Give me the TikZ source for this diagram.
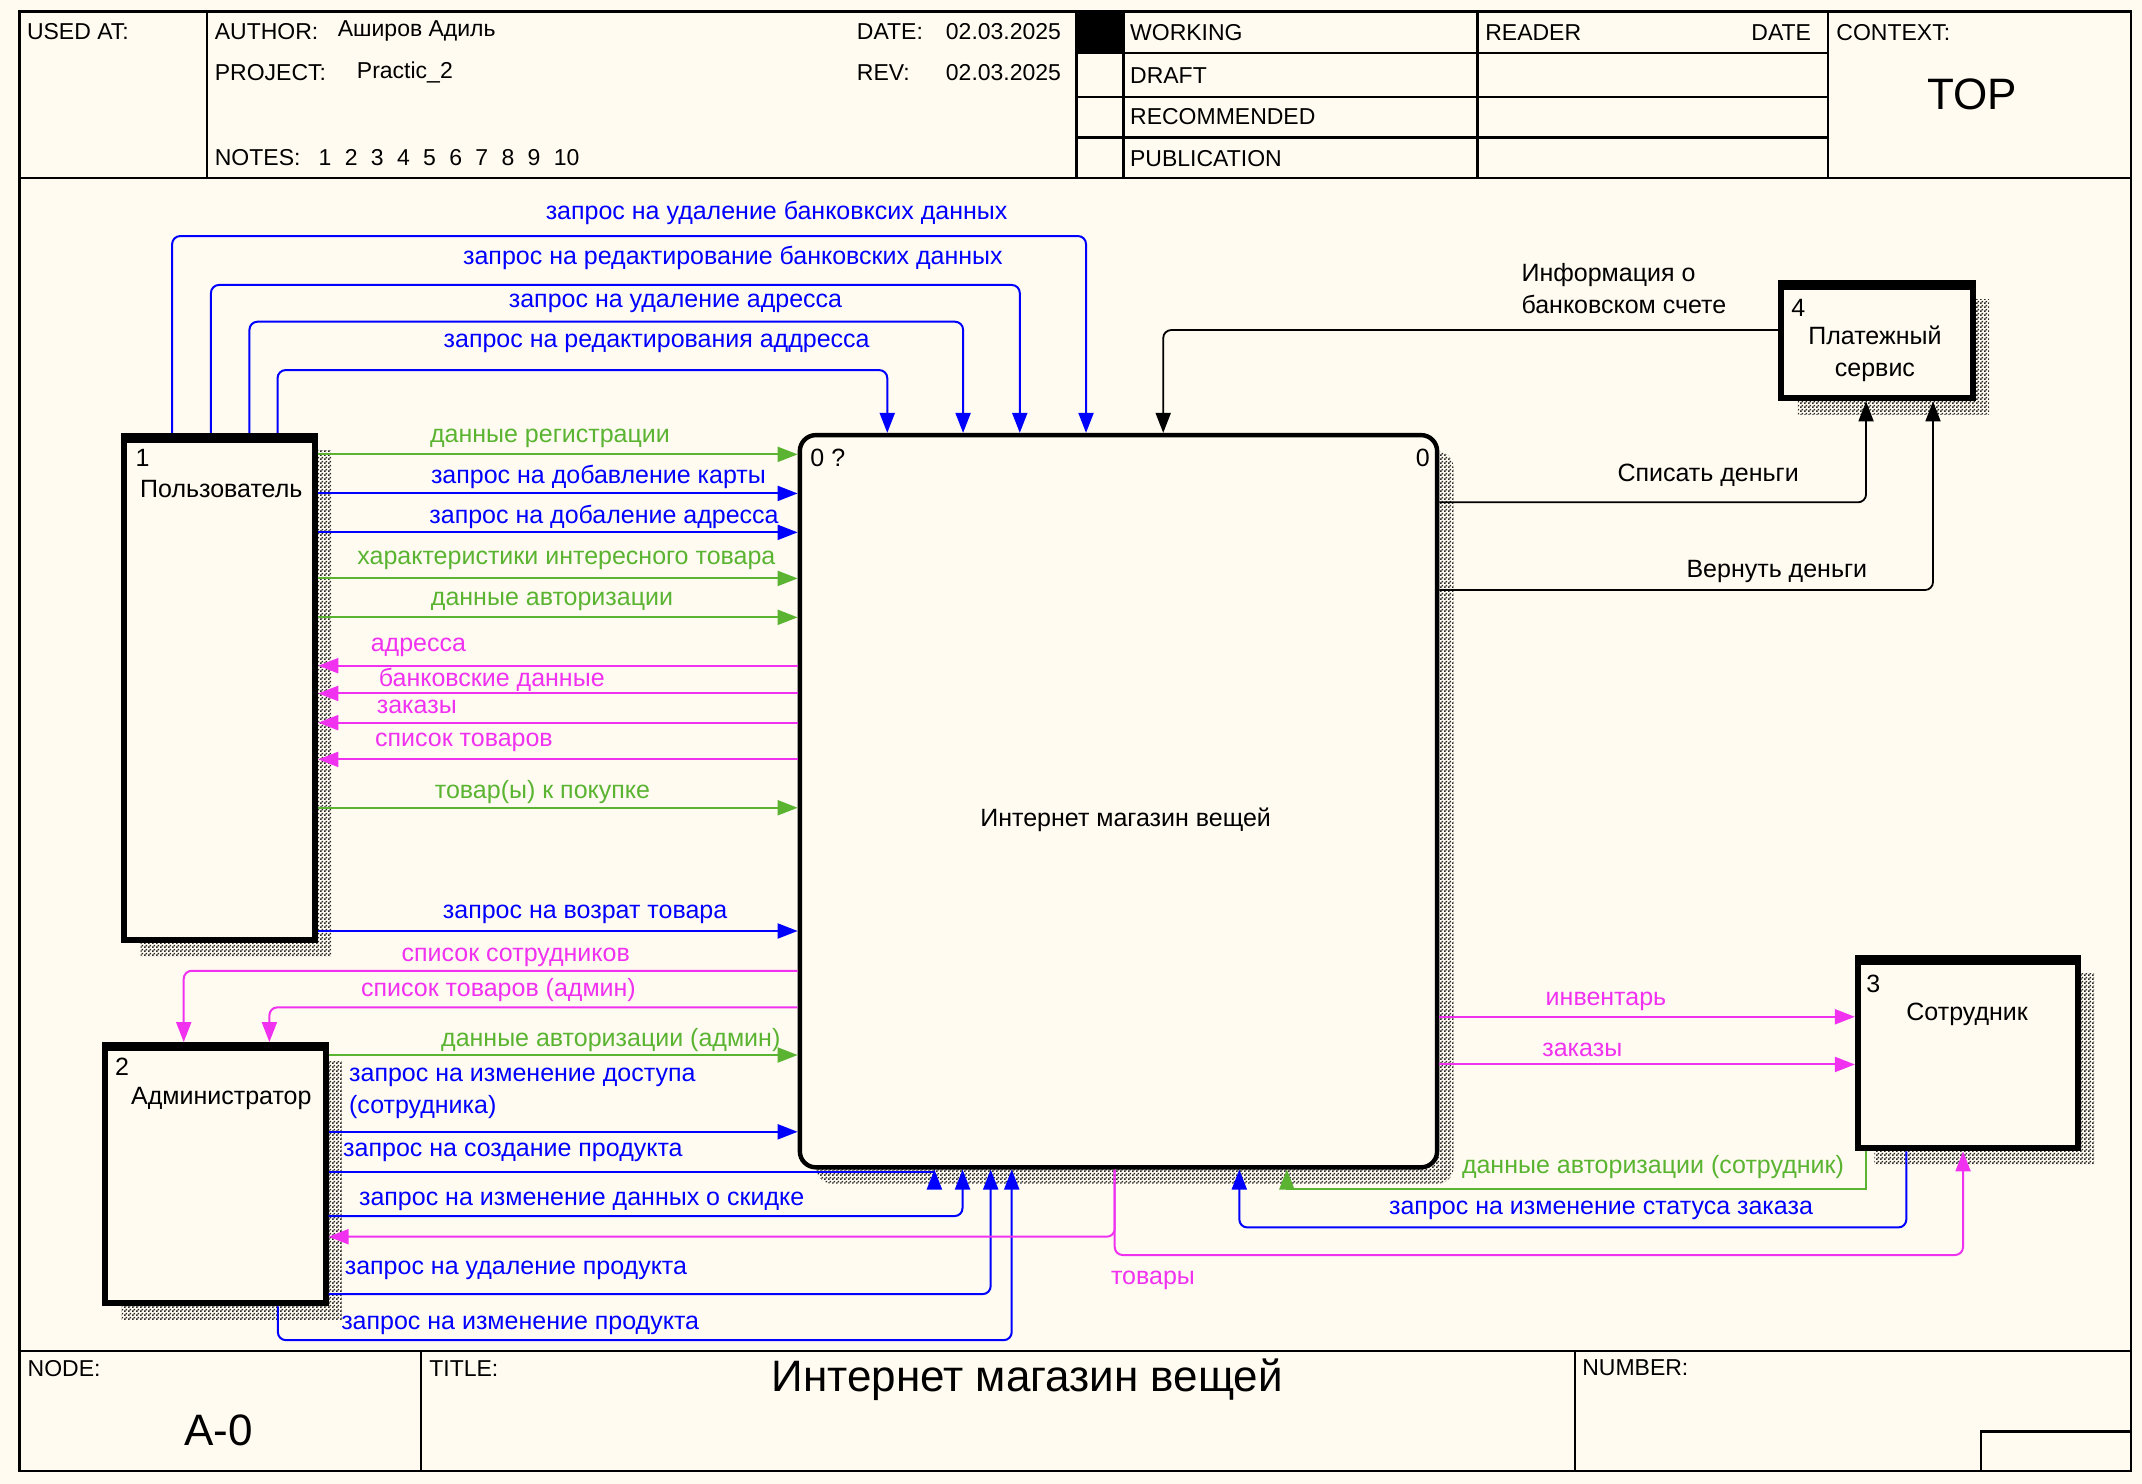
\documentclass[tikz,border=0pt]{standalone}
\usepackage{fontspec}
\setmainfont{Liberation Sans}
\usetikzlibrary{arrows.meta,fit,patterns}
\definecolor{bg}{RGB}{255,251,240}
\definecolor{cblue}{RGB}{0,0,255}
\definecolor{cgreen}{RGB}{90,180,50}
\definecolor{cmag}{RGB}{240,50,240}
% fine checker hatch used for the box shadows
\pgfdeclarepatternformonly{idefhatch}{\pgfqpoint{0pt}{0pt}}{\pgfqpoint{2pt}{2pt}}{\pgfqpoint{2pt}{2pt}}{%
  \pgfpathrectangle{\pgfqpoint{0pt}{0pt}}{\pgfqpoint{1pt}{1pt}}%
  \pgfpathrectangle{\pgfqpoint{1pt}{1pt}}{\pgfqpoint{1pt}{1pt}}%
  \pgfusepath{fill}}
\begin{document}
\begin{tikzpicture}[x=0.683pt,y=-0.683pt,
  lab/.style={inner sep=0pt, font=\fontsize{12.5}{16}\selectfont},
  hdr/.style={inner sep=0pt, font=\fontsize{11.5}{14}\selectfont, anchor=west},
  big/.style={inner sep=0pt, font=\fontsize{22}{26}\selectfont},
  frm/.style={line width=1.2pt},
  box/.style={draw, fill=bg, line width=3pt, inner sep=0pt},
  shd/.style={pattern=idefhatch, pattern color=black!85},
  con/.style={line width=1pt, rounded corners=4pt, -{Triangle[length=10pt,width=7.5pt]}},
  bl/.style={con, color=cblue},
  gr/.style={con, color=cgreen},
  mg/.style={con, color=cmag},
  bk/.style={con, color=black, line width=0.9pt},
]
% page
\fill[bg] (0,0) rectangle (1568,1086);
\useasboundingbox (0,0) rectangle (1568,1086);

% ---------- form frame ----------
\draw[frm] (14.4,8.5) rectangle (1560,1076.6);
\draw[frm] (14.4,130.5) -- (1560,130.5);
\draw[frm] (151.5,8.5) -- (151.5,130.5);
\draw[frm] (788,8.5) -- (788,130.5);
\draw[frm] (822.5,8.5) -- (822.5,130.5);
\draw[frm] (1081.6,8.5) -- (1081.6,130.5);
\draw[frm] (1338.2,8.5) -- (1338.2,130.5);
\foreach \yy in {39,70.8,100.5} \draw[frm] (788,\yy) -- (1338.2,\yy);
\fill (788,8.5) rectangle (822.5,39);
\draw[frm] (14.4,989) -- (1560,989);
\draw[frm] (308,989) -- (308,1076.6);
\draw[frm] (1153,989) -- (1153,1076.6);
\draw[frm] (1450,1076.6) |- (1560,1048);

% header texts
\node[hdr] (h1) at (19.5,23) {USED AT:};
\node[hdr] (h2) at (157,23) {AUTHOR:};
\node[hdr] (h3) at (247,23) {Аширов Адиль};
\node[hdr] (h4) at (157,53) {PROJECT:};
\node[hdr] (h5) at (261,53) {Practic\_2};
\node[hdr] (h6) at (157,115) {NOTES:};
\node[hdr] (h7) at (233,115) {1\hspace{.58em}2\hspace{.58em}3\hspace{.58em}4\hspace{.58em}5\hspace{.58em}6\hspace{.58em}7\hspace{.58em}8\hspace{.58em}9\hspace{.58em}10};
\node[hdr] (h8) at (627,23) {DATE:};
\node[hdr, anchor=east] (h9) at (777,23) {02.03.2025};
\node[hdr] (h10) at (627,53) {REV:};
\node[hdr, anchor=east] (h11) at (777,53) {02.03.2025};
\node[hdr] (h12) at (827,23.5) {WORKING};
\node[hdr] (h13) at (827,55) {DRAFT};
\node[hdr] (h14) at (827,85.5) {RECOMMENDED};
\node[hdr] (h15) at (827,116) {PUBLICATION};
\node[hdr] (h16) at (1087,23.5) {READER};
\node[hdr, anchor=east] (h17) at (1326,23.5) {DATE};
\node[hdr] (h18) at (1344,23.5) {CONTEXT:};
\node[big] (h19) at (1443.6,69) {TOP};
\node[hdr] (f1) at (20,1001.5) {NODE:};
\node[big] (f2) at (160,1047) {A-0};
\node[hdr] (f3) at (314,1001.5) {TITLE:};
\node[big] (f4) at (752,1010) {Интернет магазин вещей};
\node[hdr] (f5) at (1158,1001.5) {NUMBER:};

% ---------- shadows ----------
\fill[shd, rounded corners=8pt] (597.5,330.5) rectangle (1064,866.5);
\fill[shd] (103,330) rectangle (242.8,700);
\fill[shd] (89,777) rectangle (250.3,966);
\fill[shd] (1372,712.5) rectangle (1533,852.6);
\fill[shd] (1316,219) rectangle (1456,303.6);

% ---------- activity boxes ----------
\node[box, rounded corners=8pt, line width=2.2pt, fit={(585.5,318.5) (1052,854.5)}] (b0) {};
\node[box, fit={(91,319) (230.8,688)}] (b1) {};
\node[box, fit={(77,765) (238.3,954)}] (b2) {};
\node[box, fit={(1360,701) (1521,840.6)}] (b3) {};
\node[box, fit={(1304,207.5) (1444,291.6)}] (b4) {};
\fill (91,319) rectangle (230.8,324.5);
\fill (77,765) rectangle (238.3,769);
\fill (1360,701) rectangle (1521,706.5);
\fill (1304,207.5) rectangle (1444,212);

% box texts
\node[lab, anchor=west] (n0a) at (593,335) {0 ?};
\node[lab, anchor=east] (n0b) at (1047,335) {0};
\node[lab] (n0c) at (824,600) {Интернет магазин вещей};
\node[lab, anchor=west] (n1a) at (99,335.5) {1};
\node[lab] (n1b) at (162,358) {Пользователь};
\node[lab, anchor=west] (n2a) at (84,781) {2};
\node[lab] (n2b) at (162,804) {Администратор};
\node[lab, anchor=west] (n3a) at (1366,720) {3};
\node[lab] (n3b) at (1440,742.6) {Сотрудник};
\node[lab, anchor=west] (n4a) at (1311,225.7) {4};
\node[lab, align=center] (n4b) at (1372.5,258.7) {Платежный\\сервис};

% ---------- controls from the user over the top ----------
\draw[bl] (b1.north -| 126,0) |- (795,172.8) -- (b0.north -| 795,0);
\draw[bl] (b1.north -| 154.4,0) |- (746.5,208.6) -- (b0.north -| 746.5,0);
\draw[bl] (b1.north -| 182.6,0) |- (705,235.5) -- (b0.north -| 705,0);
\draw[bl] (b1.north -| 203.2,0) |- (649.5,270.9) -- (b0.north -| 649.5,0);
\node[lab, text=cblue] (t1) at (568.5,156) {запрос на удаление банковксих данных};
\node[lab, text=cblue] (t2) at (536.5,189) {запрос на редактирование банковских данных};
\node[lab, text=cblue] (t3) at (494.5,222) {запрос на удаление адресса};
\node[lab, text=cblue] (t4) at (480.7,251) {запрос на редактирования аддресса};

% ---------- payment service ----------
\draw[bk] (b4.west |- 0,241.6) -| (b0.north -| 851.5,0);
\draw[bk] (b0.east |- 0,367.7) -| (b4.south -| 1366,0);
\draw[bk] (b0.east |- 0,431.9) -| (b4.south -| 1415,0);
\node[lab, align=left, anchor=west] (t29) at (1113.5,211) {Информация о\\банковском счете};
\node[lab] (t30) at (1250.4,347.7) {Списать деньги};
\node[lab] (t31) at (1300.7,418.5) {Вернуть деньги};

% ---------- user <-> system ----------
\draw[gr] (b1.east |- 0,332.6) -- (b0.west |- 0,332.6);
\draw[bl] (b1.east |- 0,361.2) -- (b0.west |- 0,361.2);
\draw[bl] (b1.east |- 0,389.7) -- (b0.west |- 0,389.7);
\draw[gr] (b1.east |- 0,423.4) -- (b0.west |- 0,423.4);
\draw[gr] (b1.east |- 0,451.9) -- (b0.west |- 0,451.9);
\draw[mg] (b0.west |- 0,487.3) -- (b1.east |- 0,487.3);
\draw[mg] (b0.west |- 0,507.6) -- (b1.east |- 0,507.6);
\draw[mg] (b0.west |- 0,529) -- (b1.east |- 0,529);
\draw[mg] (b0.west |- 0,555.9) -- (b1.east |- 0,555.9);
\draw[gr] (b1.east |- 0,591.3) -- (b0.west |- 0,591.3);
\draw[bl] (b1.east |- 0,681.5) -- (b0.west |- 0,681.5);
\node[lab, text=cgreen] (t5) at (402.6,321) {данные регистрации};
\node[lab, text=cblue] (t6) at (438.1,349.4) {запрос на добавление карты};
\node[lab, text=cblue] (t7) at (442.2,378.2) {запрос на добаление адресса};
\node[lab, text=cgreen] (t8) at (414.6,410) {характеристики интересного товара};
\node[lab, text=cgreen] (t9) at (404.1,440.5) {данные авторизации};
\node[lab, text=cmag] (t10) at (306.3,474) {адресса};
\node[lab, text=cmag] (t11) at (360,497.3) {банковские данные};
\node[lab, text=cmag] (t12) at (305.1,517.8) {заказы};
\node[lab, text=cmag] (t13) at (339.6,543.7) {список товаров};
\node[lab, text=cgreen] (t14) at (397.1,579.6) {товар(ы) к покупке};
\node[lab, text=cblue] (t15) at (428.3,669.1) {запрос на возрат товара};

% ---------- administrator <-> system ----------
\draw[mg] (b0.west |- 0,710.6) -| (b2.north -| 134.5,0);
\draw[mg] (b0.west |- 0,737.4) -| (b2.north -| 197.2,0);
\draw[gr] (b2.east |- 0,772.3) -- (b0.west |- 0,772.3);
\draw[bl] (b2.east |- 0,828.5) -- (b0.west |- 0,828.5);
\draw[bl, sharp corners] (b2.east |- 0,858) -| (b0.south -| 684,0);
\draw[bl] (b2.east |- 0,890.2) -| (b0.south -| 704.6,0);
\draw[bl] (b2.east |- 0,947.3) -| (b0.south -| 725.2,0);
\draw[bl] (b2.south -| 203.4,0) |- (740.6,981) -- (b0.south -| 740.6,0);
\draw[mg] (b0.south -| 816,0) |- (b2.east |- 0,905.3);
\node[lab, text=cmag] (t16) at (377.5,700.8) {список сотрудников};
\node[lab, text=cmag] (t17) at (364.9,724.7) {список товаров (админ)};
\node[lab, text=cgreen] (t18) at (447.1,761.3) {данные авторизации (админ)};
\node[lab, text=cblue, align=left, anchor=west] (t19) at (255.3,800.4) {запрос на изменение доступа\\(сотрудника)};
\node[lab, text=cblue] (t20) at (375.5,843.8) {запрос на создание продукта};
\node[lab, text=cblue] (t21) at (425.8,879.2) {запрос на изменение данных о скидке};
\node[lab, text=cblue] (t22) at (377.7,929.7) {запрос на удаление продукта};
\node[lab, text=cblue] (t23) at (380.8,970) {запрос на изменение продукта};

% ---------- employee <-> system ----------
\draw[mg] (b0.east |- 0,744.3) -- (b3.west |- 0,744.3);
\draw[mg] (b0.east |- 0,779.2) -- (b3.west |- 0,779.2);
\draw[gr, sharp corners] (b3.south -| 1366,0) |- (942,870) -- (b0.south -| 942,0);
\draw[bl] (b3.south -| 1395.5,0) |- (907.2,898.5) -- (b0.south -| 907.2,0);
\draw[mg] (b0.south -| 816,0) |- (1437,918.7) -- (b3.south -| 1437,0);
\node[lab, text=cmag] (t24) at (844,937) {товары};
\node[lab, text=cmag] (t25) at (1175.6,733.3) {инвентарь};
\node[lab, text=cmag] (t26) at (1158.3,768.2) {заказы};
\node[lab, text=cgreen] (t27) at (1210,854.1) {данные авторизации (сотрудник)};
\node[lab, text=cblue] (t28) at (1172,885.8) {запрос на изменение статуса заказа};
\end{tikzpicture}
\end{document}
